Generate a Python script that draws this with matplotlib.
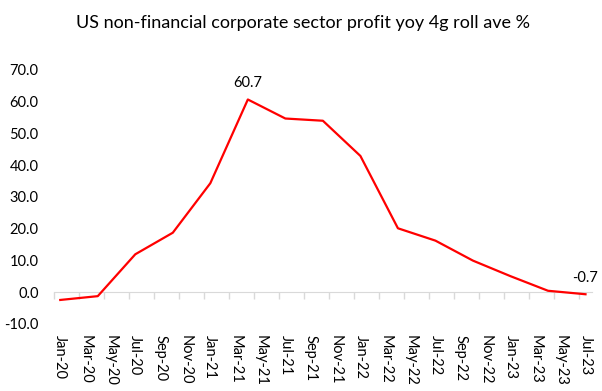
import numpy as np
import matplotlib.pyplot as plt

plt.rcParams['font.family'] = ['Lato', 'DejaVu Sans']

# quarterly observations, positioned by month index from Jan-20
months = [0, 3, 6, 9, 12, 15, 18, 21, 24, 27, 30, 33, 36, 39, 42]
values = [-2.5, -1.3, 11.9, 18.7, 34.3, 60.7, 54.7, 54.0, 42.9, 20.1,
          16.2, 9.9, 5.0, 0.4, -0.7]
labels = ['Jan-20', 'Mar-20', 'May-20', 'Jul-20', 'Sep-20', 'Nov-20',
          'Jan-21', 'Mar-21', 'May-21', 'Jul-21', 'Sep-21', 'Nov-21',
          'Jan-22', 'Mar-22', 'May-22', 'Jul-22', 'Sep-22', 'Nov-22',
          'Jan-23', 'Mar-23', 'May-23', 'Jul-23']
label_pos = np.arange(0, 43, 2)

fig = plt.figure(figsize=(6.02, 3.91), dpi=100)
ax = fig.add_axes([0.0897, 0.172, 0.8933, 0.649])

ax.plot(months, values, color='#ff0000', lw=1.6)
ax.annotate('60.7', (months[5], values[5]), xytext=(0, 7), textcoords='offset points',
            ha='center', va='bottom', fontsize=10.5)
ax.annotate('-0.7', (months[-1], values[-1]), xytext=(0, 7), textcoords='offset points',
            ha='center', va='bottom', fontsize=10.5)

ax.set_xlim(-0.5, 42.5)
ax.set_ylim(-10, 70)
ax.set_yticks(np.arange(-10, 71, 10))
ax.set_yticklabels([f'{v:.1f}' for v in np.arange(-10, 71, 10)], fontsize=10.5)
ax.set_xticks(label_pos)
ax.set_xticklabels(labels, rotation=-90, fontsize=10.5)
ax.tick_params(axis='x', length=0, pad=8)
ax.tick_params(axis='y', length=0, pad=11)
for s in ax.spines.values():
    s.set_visible(False)

# zero line with tick marks between the label months
zero = ax.secondary_xaxis(10 / 80)
zero.set_xticks(label_pos - 0.5)
zero.set_xticklabels([])
zero.tick_params(axis='x', length=5, color='#d9d9d9', width=1)
zero.spines['bottom'].set_color('#d9d9d9')

fig.suptitle('US non-financial corporate sector profit yoy 4g roll ave %',
             x=0.503, y=0.94, fontsize=13, va='center')

fig.savefig('out.png', dpi=100)
